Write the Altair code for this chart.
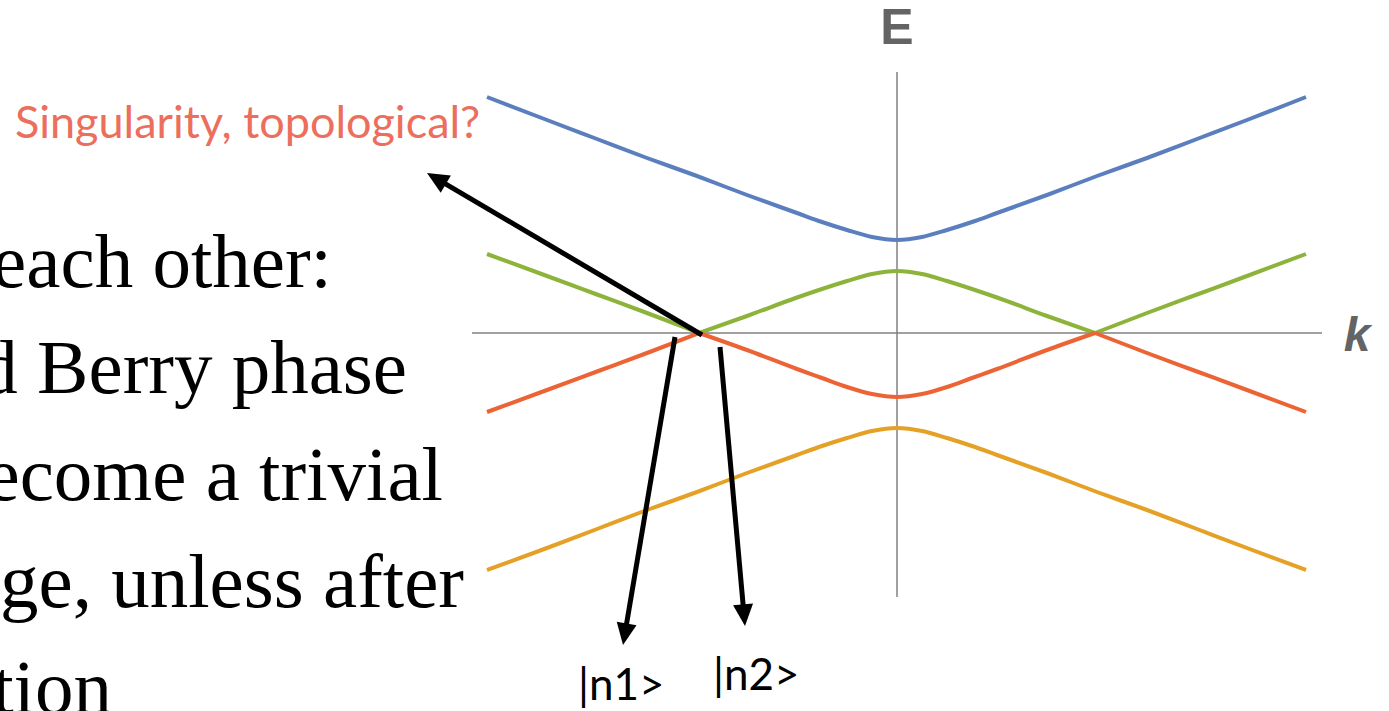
import math

import altair as alt
import pandas as pd

# ---- band energies E(k) -------------------------------------------------
# outer pair: gapped upper / lower bands
k_outer = [-4.1, -3.5, -3.0, -2.5, -2.0, -1.5, -1.0, -0.75, -0.5, -0.25, 0.0,
           0.25, 0.5, 0.75, 1.0, 1.5, 2.0, 2.5, 3.0, 3.5, 4.09]
e_upper = [2.36, 2.13, 1.94, 1.75, 1.57, 1.38, 1.20, 1.11, 1.03, 0.96, 0.93,
           0.96, 1.03, 1.11, 1.20, 1.38, 1.57, 1.75, 1.94, 2.13, 2.36]
e_lower = [-2.37, -2.15, -1.96, -1.77, -1.59, -1.40, -1.22, -1.13, -1.05, -0.98, -0.95,
           -0.98, -1.05, -1.13, -1.22, -1.40, -1.59, -1.77, -1.96, -2.15, -2.37]

# inner pair: the two bands touch at E = 0, k = +/- K_CROSS
K_CROSS = 1.98
k_inner = [-4.1, -3.5, -3.0, -2.5, -1.98, -1.5, -1.0, -0.75, -0.5, -0.25, 0.0,
           0.25, 0.5, 0.75, 1.0, 1.5, 1.98, 2.5, 3.0, 3.5, 4.09]
e_green = [0.79, 0.57, 0.385, 0.20, 0.0, 0.17, 0.355, 0.44, 0.52, 0.59, 0.62,
           0.59, 0.52, 0.44, 0.355, 0.17, 0.0, 0.20, 0.385, 0.57, 0.79]
e_red = [-0.79, -0.57, -0.385, -0.20, 0.0, -0.17, -0.36, -0.45, -0.54, -0.61, -0.64,
         -0.61, -0.54, -0.45, -0.36, -0.17, 0.0, -0.20, -0.385, -0.57, -0.79]

band_names = ["upper", "green", "red", "lower"]
band_colors = ["#5B7FBE", "#8DB33A", "#EC6435", "#E4A126"]

# ---- annotations ----------------------------------------------------------
# arrows: (start k, start E, tip k, tip E)
arrow_from_k = [-1.95, -2.22, -1.77]
arrow_from_e = [-0.02, -0.04, -0.14]
arrow_to_k = [-4.70, -2.74, -1.52]
arrow_to_e = [1.60, -3.12, -2.93]

slide_lines = ["each other:", "d Berry phase", "ecome a trivial",
               "ge, unless after", "tion"]
slide_right_k = [-5.65, -4.90, -4.54, -4.33, -7.85]
slide_base_e = [0.46, -0.60, -1.67, -2.74, -3.80]

ket_labels = ["|n1>", "|n2>"]
ket_k = [-3.19, -1.84]
ket_e = [-3.67, -3.57]


def band_rows(name, ks, es, split):
    out = []
    for k, e in zip(ks, es):
        segs = [0]
        if split:
            segs = []
            if k <= -K_CROSS:
                segs.append(0)
            if -K_CROSS <= k <= K_CROSS:
                segs.append(1)
            if k >= K_CROSS:
                segs.append(2)
        for s in segs:
            out.append({"band": name, "seg": f"{name}-{s}", "k": k, "E": e})
    return out


rows = (band_rows("upper", k_outer, e_upper, False)
        + band_rows("lower", k_outer, e_lower, False)
        + band_rows("green", k_inner, e_green, True)
        + band_rows("red", k_inner, e_red, True))
bands = pd.DataFrame(rows)

xs = alt.Scale(domain=[-8.97, 4.92], nice=False, zero=False)
ys = alt.Scale(domain=[-3.78, 3.33], nice=False, zero=False)
X = lambda f: alt.X(f, type="quantitative", scale=xs, axis=None)
Y = lambda f: alt.Y(f, type="quantitative", scale=ys, axis=None)

# coordinate axes through the origin
axes_df = pd.DataFrame({"k1": [0.0, -4.25], "k2": [0.0, 4.25],
                        "E1": [2.61, 0.0], "E2": [-2.64, 0.0]})
axes = alt.Chart(axes_df).mark_rule(color="#808080", strokeWidth=1.5).encode(
    x=X("k1"), x2="k2", y=Y("E1"), y2="E2")

lines = alt.Chart(bands).mark_line(strokeWidth=4, interpolate="monotone").encode(
    x=X("k"), y=Y("E"),
    color=alt.Color("band:N", scale=alt.Scale(domain=band_names, range=band_colors),
                    legend=None),
    detail="seg:N")

# arrow shafts stop a little short of the tip so the head stays sharp
arr = []
for k0, e0, k1, e1 in zip(arrow_from_k, arrow_from_e, arrow_to_k, arrow_to_e):
    dk, de = k1 - k0, e1 - e0
    n = math.hypot(dk, de)
    arr.append({"k0": k0, "e0": e0, "k1": k1, "e1": e1,
                "ks": k1 - 0.14 * dk / n, "es": e1 - 0.14 * de / n,
                "ang": math.degrees(math.atan2(dk, de)) % 360})
arr_df = pd.DataFrame(arr)

shafts = alt.Chart(arr_df).mark_rule(color="black", strokeWidth=5).encode(
    x=X("k0"), x2="ks", y=Y("e0"), y2="es")
heads = alt.Chart(arr_df).mark_point(
    shape="M0,0L-0.46,1L0.46,1Z", filled=True, color="black", opacity=1,
    size=1900, strokeWidth=0).encode(
    x=X("k1"), y=Y("e1"), angle=alt.Angle("ang:Q", scale=None))

slide_df = pd.DataFrame({"t": slide_lines, "k": slide_right_k, "E": slide_base_e})
slide = alt.Chart(slide_df).mark_text(
    font="Liberation Serif", fontSize=77, align="right", baseline="alphabetic",
    color="black").encode(x=X("k"), y=Y("E"), text="t:N")

ket_df = pd.DataFrame({"t": ket_labels, "k": ket_k, "E": ket_e})
kets = alt.Chart(ket_df).mark_text(
    font="Lato", fontSize=44, align="left", baseline="alphabetic",
    color="black").encode(x=X("k"), y=Y("E"), text="t:N")

sing_df = pd.DataFrame({"t": ["Singularity, topological?"], "k": [-8.82], "E": [1.95]})
sing = alt.Chart(sing_df).mark_text(
    font="Lato", fontSize=45, align="left", baseline="alphabetic",
    color="#EC6E5C").encode(x=X("k"), y=Y("E"), text="t:N")

e_df = pd.DataFrame({"t": ["E"], "k": [0.0], "E": [2.89]})
e_lab = alt.Chart(e_df).mark_text(
    font="Liberation Sans", fontSize=50, fontWeight="bold", align="center",
    baseline="alphabetic", color="#646464").encode(x=X("k"), y=Y("E"), text="t:N")

k_df = pd.DataFrame({"t": ["k"], "k": [4.60], "E": [-0.18]})
k_lab = alt.Chart(k_df).mark_text(
    font="Liberation Sans", fontSize=48, fontWeight="bold", fontStyle="italic",
    align="center", baseline="alphabetic", color="#646464").encode(
    x=X("k"), y=Y("E"), text="t:N")

chart = alt.layer(axes, lines, shafts, heads, slide, kets, sing, e_lab, k_lab).properties(
    width=1389, height=711, padding=0, autosize="none", background="white"
).configure_view(stroke=None)

chart.save("out.html", embed_options={"renderer": "svg", "actions": False})
